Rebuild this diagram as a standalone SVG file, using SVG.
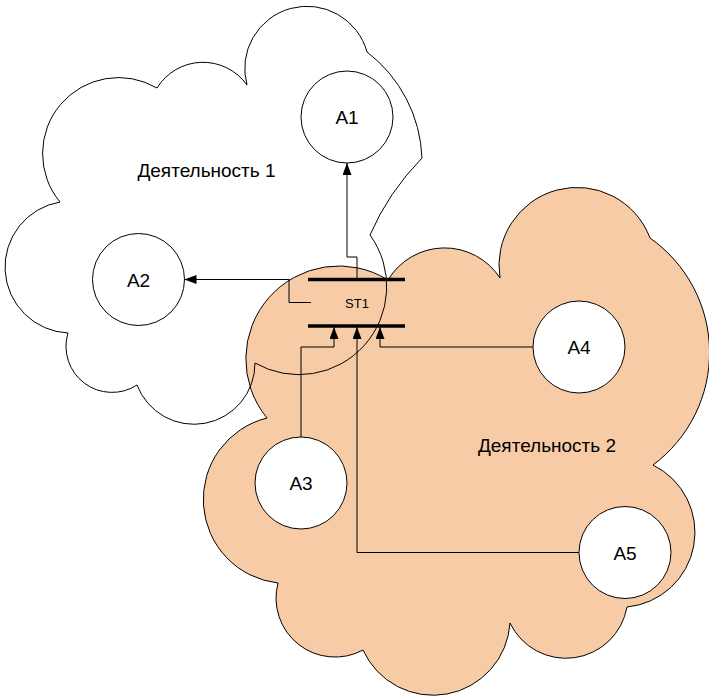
<svg xmlns="http://www.w3.org/2000/svg" width="709" height="700" viewBox="0 0 709 700">
<style>
.cloud{stroke:#000;stroke-width:1}
.node{fill:#fff;stroke:#000;stroke-width:1}
.lbl{font-family:"Liberation Sans",Arial,sans-serif;font-size:19px;fill:#000;text-anchor:middle}
.st{font-family:"Liberation Sans",Arial,sans-serif;font-size:13px;fill:#000;text-anchor:middle}
.con{fill:none;stroke:#000;stroke-width:1}
.bar{stroke:#000;stroke-width:3.5}
</style>
<defs>
<marker id="arr" markerUnits="userSpaceOnUse" markerWidth="12" markerHeight="9" refX="12" refY="4.5" orient="auto">
<path d="M0,0 L12,4.5 L0,9 z" fill="#000"/>
</marker>
</defs>
<rect width="709" height="700" fill="#fff"/>
<g id="cloud2">
<path class="cloud" fill="#F8CBA7" d="M388,280 A66,66 0 0 1 500,278 A78,78 0 0 1 650,238 A140,140 0 0 1 653,465 A75,75 0 0 1 627,607 A62,62 0 0 1 510,623 A77,77 0 0 1 363,650 A59,59 0 0 1 278,583 A84,84 0 0 1 267,418 A93,93 0 0 1 388,280 Z"/>
<text class="lbl" x="547" y="452">Деятельность 2</text>
</g>
<g id="cloud1">
<path class="cloud" fill="none" d="M247,85 A62,62 0 0 1 367,52 A140,140 0 0 1 422,158 Q388,193 370,235 A88,88 0 0 1 255,363 A61,61 0 0 1 137,385 A46,46 0 0 1 68,333 A66,66 0 0 1 60,202 A76,76 0 0 1 157,88 A54,54 0 0 1 247,85 Z"/>
<text class="lbl" x="206.5" y="177">Деятельность 1</text>
</g>
<g id="A1"><circle class="node" cx="347" cy="117" r="46"/><text class="lbl" x="347" y="124">A1</text></g>
<g id="A2"><circle class="node" cx="138.5" cy="279.5" r="46"/><text class="lbl" x="138.5" y="286.5">A2</text></g>
<g id="A3"><circle class="node" cx="301" cy="483" r="46"/><text class="lbl" x="301" y="490">A3</text></g>
<g id="A4"><circle class="node" cx="579" cy="347" r="46"/><text class="lbl" x="579" y="354">A4</text></g>
<g id="A5"><circle class="node" cx="625" cy="552.5" r="46"/><text class="lbl" x="625" y="559.5">A5</text></g>
<g id="connectors">
<path class="con" d="M357,279 V257 H347 V163" marker-end="url(#arr)"/>
<path class="con" d="M311,302.5 H289 V279.5 H184.5" marker-end="url(#arr)"/>
<path class="con" d="M301,437 V347 H334 V327" marker-end="url(#arr)"/>
<path class="con" d="M579,552.5 H357 V327" marker-end="url(#arr)"/>
<path class="con" d="M533,347 H380 V327" marker-end="url(#arr)"/>
</g>
<g id="ST1">
<line class="bar" x1="308" y1="279.5" x2="405" y2="279.5"/>
<line class="bar" x1="308" y1="326" x2="405" y2="326"/>
<text class="st" x="357" y="307.5">ST1</text>
</g>
</svg>
